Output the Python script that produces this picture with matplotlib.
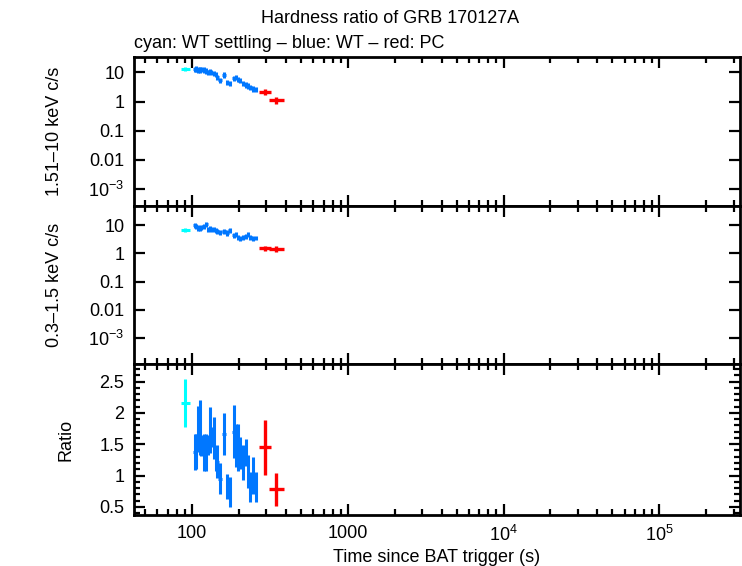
import numpy as np
import matplotlib
matplotlib.use("Agg")
import matplotlib.pyplot as plt
from matplotlib.ticker import LogLocator, FixedLocator, MultipleLocator, NullFormatter

plt.rcParams['font.family'] = ['Liberation Sans', 'DejaVu Sans']
plt.rcParams['mathtext.fontset'] = 'custom'
plt.rcParams['mathtext.rm'] = 'Liberation Sans'

# WT settling (cyan)
cy_t = [90.7]
cy_tlo = [5.2]
cy_thi = [6.0]
cy_hard = [13.1]
cy_hard_err = [2.0]
cy_soft = [6.9]
cy_soft_err = [1.3]
cy_ratio = [2.16]
cy_ratio_err = [0.38]

# WT (blue)
wt_t = [104.0, 106.7, 109.3, 112.0, 114.8, 118.9, 123.7, 126.7, 130.0, 133.3,
        137.7, 141.9, 145.6, 150.6, 160.6, 168.7, 174.6, 185.3, 190.8, 197.4,
        202.4, 212.6, 221.4, 229.2, 237.3, 246.6, 256.6]
wt_terr = [2.0, 1.6, 1.5, 1.6, 2.0, 2.3, 2.2, 1.7, 1.7, 2.0,
           2.2, 2.0, 2.4, 4.5, 4.5, 3.5, 4.5, 4.0, 3.2, 3.2,
           4.5, 4.8, 4.2, 4.2, 4.6, 5.0, 5.5]
wt_hard = [12.7, 13.4, 12.4, 12.4, 13.0, 12.4, 11.4, 10.0, 10.8, 10.5,
           9.5, 8.5, 6.9, 5.6, 8.3, 4.5, 4.3, 6.4, 6.9, 5.9,
           5.3, 4.1, 3.8, 3.5, 3.1, 2.8, 2.7]
wt_hard_err = [2.6, 2.8, 2.6, 2.6, 2.7, 2.5, 2.3, 2.0, 2.2, 2.1,
               1.9, 1.7, 1.4, 1.1, 1.7, 0.9, 0.9, 1.3, 1.4, 1.2,
               1.1, 0.8, 0.8, 0.7, 0.6, 0.6, 0.55]
wt_soft = [10.0, 9.2, 8.1, 7.6, 8.5, 9.2, 11.1, 7.0, 7.6, 7.0,
           7.3, 6.5, 6.1, 5.8, 6.1, 5.4, 6.5, 4.4, 4.9, 3.75,
           3.4, 3.75, 4.0, 4.9, 3.75, 3.4, 3.6]
wt_soft_err = [2.0, 1.9, 1.7, 1.6, 1.7, 1.9, 2.2, 1.4, 1.5, 1.4,
               1.5, 1.3, 1.2, 1.2, 1.2, 1.1, 1.3, 0.9, 1.0, 0.8,
               0.7, 0.8, 0.8, 1.0, 0.8, 0.7, 0.7]
wt_ratio = [1.38, 1.38, 1.74, 1.76, 1.48, 1.37, 1.37, 1.48, 1.73, 1.61,
            1.60, 1.22, 1.22, 0.95, 1.66, 0.83, 0.73, 1.70, 1.48, 1.45,
            1.36, 1.21, 1.37, 1.06, 0.82, 1.00, 0.82]
wt_ratio_err = [0.29, 0.28, 0.37, 0.44, 0.17, 0.30, 0.30, 0.16, 0.37, 0.16,
                0.33, 0.15, 0.26, 0.25, 0.34, 0.20, 0.24, 0.42, 0.34, 0.38,
                0.26, 0.28, 0.22, 0.26, 0.24, 0.29, 0.24]

# PC (red)
pc_t = [293.0, 348.0]
pc_tlo = [25.0, 36.0]
pc_thi = [29.0, 40.0]
pc_hard = [2.2, 1.15]
pc_hard_err = [0.5, 0.3]
pc_soft = [1.55, 1.45]
pc_soft_err = [0.35, 0.35]
pc_ratio = [1.45, 0.78]
pc_ratio_err = [0.44, 0.26]

wt_blue = '#0077ff'

fig = plt.figure(figsize=(7.42, 5.66), dpi=100)
L, R = 134 / 742, 740 / 742
edges = [57, 206, 364, 515]
axes = []
for i in range(3):
    top = 1 - edges[i] / 566
    bot = 1 - edges[i + 1] / 566
    axes.append(fig.add_axes([L, bot, R - L, top - bot]))
ax1, ax2, ax3 = axes


def draw(ax, cy, cye, wt, wte, pc, pce):
    ax.errorbar(cy_t, cy, xerr=[cy_tlo, cy_thi], yerr=cye, fmt='none',
                ecolor='cyan', elinewidth=2.2, capsize=0)
    ax.errorbar(wt_t, wt, xerr=wt_terr, yerr=wte, fmt='none',
                ecolor=wt_blue, elinewidth=2.2, capsize=0)
    ax.errorbar(pc_t, pc, xerr=[pc_tlo, pc_thi], yerr=pce, fmt='none',
                ecolor='red', elinewidth=2.4, capsize=0)


draw(ax1, cy_hard, cy_hard_err, wt_hard, wt_hard_err, pc_hard, pc_hard_err)
draw(ax2, cy_soft, cy_soft_err, wt_soft, wt_soft_err, pc_soft, pc_soft_err)
draw(ax3, cy_ratio, cy_ratio_err, wt_ratio, wt_ratio_err,
     pc_ratio, pc_ratio_err)

fs = 13
xlim = (42.4, 3.3e5)
for ax in axes:
    ax.set_xscale('log')
    ax.set_xlim(*xlim)
    ax.xaxis.set_major_locator(FixedLocator([100, 1000, 1e4, 1e5]))
    ax.xaxis.set_minor_locator(LogLocator(base=10, subs=np.arange(2, 10)))
    ax.xaxis.set_minor_formatter(NullFormatter())
    ax.tick_params(which='both', direction='in', top=True, right=True,
                   width=1.6, labelsize=fs)
    ax.tick_params(which='major', length=8, pad=7)
    ax.tick_params(which='minor', length=4)
    for s in ax.spines.values():
        s.set_linewidth(2)

for ax, lims in [(ax1, (2.6e-4, 34)), (ax2, (1.2e-4, 48))]:
    ax.set_yscale('log')
    ax.set_ylim(*lims)
    ax.yaxis.set_major_locator(FixedLocator([1e-4, 1e-3, 0.01, 0.1, 1, 10]))
    ax.yaxis.set_minor_locator(LogLocator(base=10, subs=np.arange(2, 10)))
    ax.yaxis.set_minor_formatter(NullFormatter())
    ax.set_yticklabels(['', '10$^{-3}$', '0.01', '0.1', '1', '10'])
    ax.set_xticklabels([])

ax3.set_ylim(0.37, 2.78)
ax3.yaxis.set_major_locator(MultipleLocator(0.5))
ax3.yaxis.set_minor_locator(MultipleLocator(0.1))
ax3.yaxis.set_major_formatter(plt.FuncFormatter(lambda v, p: '%g' % v))
ax3.set_xticklabels(['100', '1000', '10$^{4}$', '10$^{5}$'])

ax1.set_ylabel('1.51–10 keV c/s', fontsize=fs, labelpad=18)
ax2.set_ylabel('0.3–1.5 keV c/s', fontsize=fs, labelpad=18)
ax3.set_ylabel('Ratio', fontsize=fs, labelpad=18)
ax3.set_xlabel('Time since BAT trigger (s)', fontsize=fs, labelpad=3)
fig.align_ylabels(axes)

fig.text(0.526, 0.968, 'Hardness ratio of GRB 170127A', ha='center',
         va='center', fontsize=fs)
fig.text(L, 0.924, 'cyan: WT settling – blue: WT – red: PC', ha='left',
         va='center', fontsize=fs)

fig.savefig('out.png', dpi=100)
